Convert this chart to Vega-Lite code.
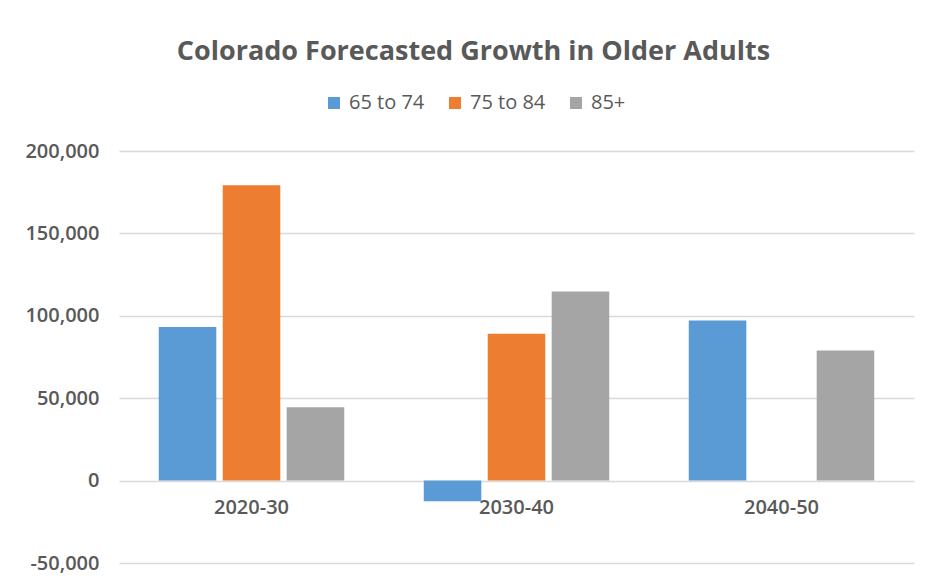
{
  "$schema": "https://vega.github.io/schema/vega-lite/v6.json",
  "width": 795,
  "height": 412,
  "autosize": {"type": "none"},
  "padding": {"left": 119, "top": 151, "right": 13, "bottom": 21},
  "background": "white",
  "title": {
    "text": "Colorado Forecasted Growth in Older Adults",
    "font": "Open Sans",
    "fontSize": 27,
    "fontWeight": "bold",
    "color": "#595959",
    "anchor": "middle",
    "dx": -43,
    "offset": 27
  },
  "data": {
    "values": [
      {"period": "2020-30", "group": "65 to 74", "growth": 93200},
      {"period": "2020-30", "group": "75 to 84", "growth": 179200},
      {"period": "2020-30", "group": "85+", "growth": 44500},
      {"period": "2030-40", "group": "65 to 74", "growth": -12500},
      {"period": "2030-40", "group": "75 to 84", "growth": 89100},
      {"period": "2030-40", "group": "85+", "growth": 114800},
      {"period": "2040-50", "group": "65 to 74", "growth": 97200},
      {"period": "2040-50", "group": "85+", "growth": 79000}
    ]
  },
  "mark": {"type": "bar"},
  "encoding": {
    "x": {
      "field": "period",
      "type": "nominal",
      "scale": {"paddingInner": 0.3, "paddingOuter": 0.15},
      "axis": {
        "title": null,
        "labelAngle": 0,
        "domain": false,
        "ticks": false,
        "offset": -83,
        "labelPadding": 17,
        "labelFont": "Open Sans",
        "labelFontSize": 20,
        "labelColor": "#595959",
        "labelFontWeight": 600
      }
    },
    "xOffset": {
      "field": "group",
      "type": "nominal",
      "scale": {"paddingInner": 0.1, "paddingOuter": 0, "domain": ["65 to 74", "75 to 84", "85+"]}
    },
    "y": {
      "field": "growth",
      "type": "quantitative",
      "scale": {"domain": [-50000, 200000], "nice": false},
      "axis": {
        "title": null,
        "values": [-50000, 0, 50000, 100000, 150000, 200000],
        "format": ",.0f",
        "labelExpr": "replace(datum.label, '−', '-')",
        "domain": false,
        "ticks": false,
        "labelPadding": 20,
        "labelFont": "Open Sans",
        "labelFontSize": 20,
        "labelColor": "#595959",
        "labelFontWeight": 600,
        "gridColor": "#D9D9D9",
        "gridWidth": 1.5
      }
    },
    "color": {
      "field": "group",
      "type": "nominal",
      "scale": {"domain": ["65 to 74", "75 to 84", "85+"], "range": ["#5B9BD5", "#ED7D31", "#A5A5A5"]},
      "legend": {
        "title": null,
        "orient": "none",
        "legendX": 205,
        "legendY": -58,
        "direction": "horizontal",
        "symbolType": "square",
        "symbolSize": 144,
        "symbolStrokeWidth": 0,
        "symbolOffset": 0,
        "labelOffset": 5,
        "labelFont": "Open Sans",
        "labelFontSize": 20,
        "labelColor": "#595959",
        "columnPadding": 20
      }
    }
  },
  "config": {
    "view": {"stroke": null}
  }
}
